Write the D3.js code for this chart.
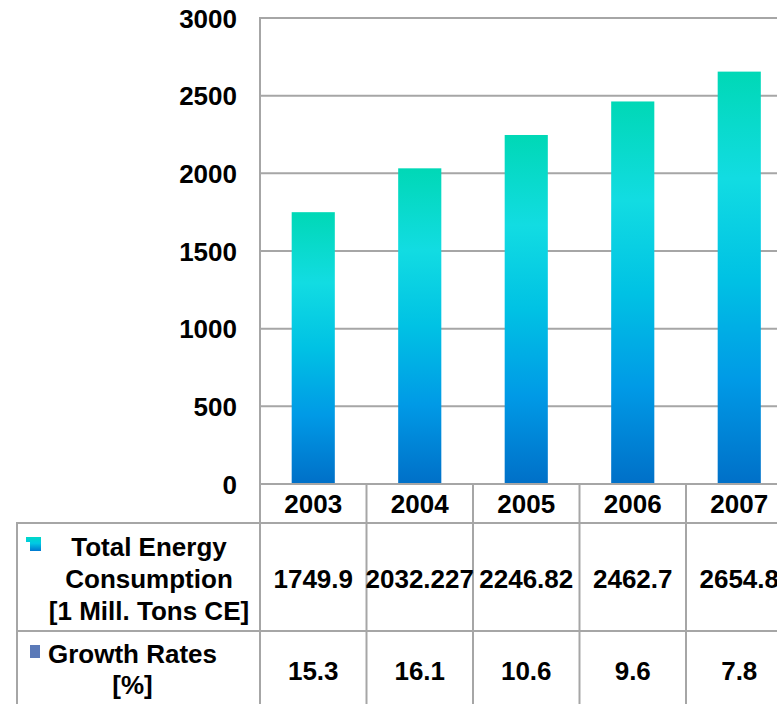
<!DOCTYPE html>
<html>
<head>
<meta charset="utf-8">
<script src="https://cdn.jsdelivr.net/npm/d3@7"></script>
<style>
  html, body { margin: 0; padding: 0; background: #fff; }
  svg { display: block; }
  text { font-family: "Liberation Sans", Arial, sans-serif; font-weight: bold; fill: #000; }
</style>
</head>
<body>
<div id="chart"></div>
<script>
// Chart data
const years = ["2003", "2004", "2005", "2006", "2007"];
const consumption = [1749.9, 2032.227, 2246.82, 2462.7, 2654.8];
const growthRates = [15.3, 16.1, 10.6, 9.6, 7.8];
const yTicks = [0, 500, 1000, 1500, 2000, 2500, 3000];
const rowLabels = [
  ["Total Energy", "Consumption", "[1 Mill. Tons CE]"],
  ["Growth Rates", "[%]"]
];

const W = 777, H = 704;
const plot = { left: 260, top: 18, bottom: 484 };
const colW = 106.5;
const tableLeft = 17;
const headerBottom = 523, row1Bottom = 631;
const gridColor = "#a6a6a6";
const fontSize = 26;

const svg = d3.select("#chart").append("svg")
  .attr("width", W).attr("height", H);

const defs = svg.append("defs");
const barGrad = defs.append("linearGradient")
  .attr("id", "barGrad").attr("x1", 0).attr("y1", 0).attr("x2", 0).attr("y2", 1);
[[0, "#00d8b6"], [0.26, "#12dce2"], [0.5, "#00c2e4"], [0.75, "#009ae6"], [1, "#0070c8"]]
  .forEach(([o, c]) => barGrad.append("stop").attr("offset", o).attr("stop-color", c));

const x = d3.scaleBand().domain(years)
  .range([plot.left, plot.left + colW * years.length]).padding(0);
const y = d3.scaleLinear().domain([0, 3000]).range([plot.bottom, plot.top]);

// Gridlines and plot frame
const grid = svg.append("g");
grid.selectAll("line.h").data(yTicks).join("line")
  .attr("x1", plot.left).attr("x2", x.range()[1])
  .attr("y1", d => y(d)).attr("y2", d => y(d))
  .attr("stroke", gridColor).attr("stroke-width", 2);
grid.append("line")
  .attr("x1", plot.left).attr("x2", plot.left)
  .attr("y1", plot.top - 1).attr("y2", H)
  .attr("stroke", gridColor).attr("stroke-width", 2);

// Y tick labels
svg.append("g").selectAll("text").data(yTicks).join("text")
  .attr("x", plot.left - 23).attr("y", d => y(d) + 9.5)
  .attr("text-anchor", "end").attr("font-size", fontSize)
  .text(d => d);

// Bars
const barW = x.bandwidth() * 0.405;
svg.append("g").selectAll("rect").data(years).join("rect")
  .attr("x", (d, i) => x(d) + (x.bandwidth() - barW) / 2)
  .attr("width", barW)
  .attr("y", (d, i) => y(consumption[i]))
  .attr("height", (d, i) => y(0) - y(consumption[i]) - 1)
  .attr("fill", "url(#barGrad)");

// Data table lines
const tbl = svg.append("g").attr("stroke", gridColor).attr("stroke-width", 2);
[headerBottom, row1Bottom].forEach(yy => tbl.append("line")
  .attr("x1", tableLeft).attr("x2", W).attr("y1", yy).attr("y2", yy));
tbl.append("line").attr("x1", tableLeft).attr("x2", tableLeft)
  .attr("y1", headerBottom - 1).attr("y2", H);
years.forEach(yr => tbl.append("line")
  .attr("x1", x(yr) + colW).attr("x2", x(yr) + colW)
  .attr("y1", plot.bottom).attr("y2", H));

// Header row: years
svg.append("g").selectAll("text").data(years).join("text")
  .attr("x", d => x(d) + colW / 2).attr("y", 513)
  .attr("text-anchor", "middle").attr("font-size", fontSize)
  .text(d => d);

// Row values
svg.append("g").selectAll("text").data(consumption).join("text")
  .attr("x", (d, i) => x(years[i]) + colW / 2).attr("y", 588)
  .attr("text-anchor", "middle").attr("font-size", fontSize)
  .text(d => String(d));
svg.append("g").selectAll("text").data(growthRates).join("text")
  .attr("x", (d, i) => x(years[i]) + colW / 2).attr("y", 680)
  .attr("text-anchor", "middle").attr("font-size", fontSize)
  .text(d => String(d));

// Row labels
const lab1 = svg.append("text").attr("text-anchor", "middle").attr("font-size", fontSize);
rowLabels[0].forEach((t, i) => lab1.append("tspan").attr("x", 149).attr("y", 556 + i * 32).text(t));
const lab2 = svg.append("text").attr("text-anchor", "middle").attr("font-size", fontSize);
rowLabels[1].forEach((t, i) => lab2.append("tspan").attr("x", 132.5).attr("y", 663 + i * 31).text(t));

// Legend keys
const keyGrad = defs.append("linearGradient")
  .attr("id", "keyGrad").attr("x1", 0).attr("y1", 0).attr("x2", 0).attr("y2", 1);
[[0, "#00d8c8"], [0.45, "#00c8e4"], [1, "#0078d0"]]
  .forEach(([o, c]) => keyGrad.append("stop").attr("offset", o).attr("stop-color", c));
svg.append("path")
  .attr("d", "M26,537 H41 V551 H30 V542 H26 Z")
  .attr("fill", "url(#keyGrad)");
svg.append("rect")
  .attr("x", 30).attr("y", 645).attr("width", 10).attr("height", 13)
  .attr("fill", "#5b7ab8");
</script>
</body>
</html>
